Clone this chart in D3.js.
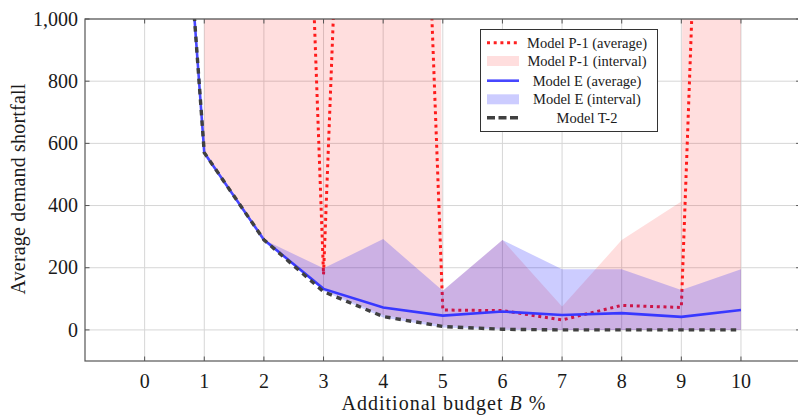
<!DOCTYPE html>
<html>
<head>
<meta charset="utf-8">
<script src="https://cdn.jsdelivr.net/npm/d3@7"></script>
<style>
body { margin: 0; background: #fff; }
svg text { font-family: "Liberation Serif", "DejaVu Serif", serif; fill: #1a1a1a; }
</style>
</head>
<body>
<svg id="chart" width="798" height="416"></svg>
<script>
// budget levels (x values)
const budget = [0, 1, 2, 3, 4, 5, 6, 7, 8, 9, 10];
const budgetP = [1, 2, 3, 4, 5, 6, 7, 8, 9, 10];

// Model P-1 (values above 1000 are clipped)
const p1Avg  = [6000, 5500, 178, 5200, 64, 62, 32, 79, 72, 5400];
const p1Low  = [570, 290, 130, 48, 15, 4, 0, 0, 0, 0];
const p1High = [30000, 30000, 30000, 30000, 126, 289, 75, 289, 413, 40000];

// Model E
const eAvg  = [3200, 570, 290, 132, 72, 46, 59, 48, 54, 42, 64];
const eLow  = [null, 570, 290, 125, 40, 8, 1, 0, 0, 0, 0];
const eHigh = [null, 570, 290, 198, 292, 126, 289, 195, 195, 128, 195];

// Model T-2
const t2 = [3200, 570, 290, 123, 43, 11, 2, 0, 0, 0, 0];

const xTicks = [0, 1, 2, 3, 4, 5, 6, 7, 8, 9, 10];
const yTicks = [0, 200, 400, 600, 800, 1000];
const legendLabels = ["Model P-1 (average)", "Model P-1 (interval)", "Model E (average)", "Model E (interval)", "Model T-2"];

const plotLeft = 85, plotTop = 19, plotBottom = 361, plotRight = 800.6;

const svg = d3.select("#chart");
const x = d3.scaleLinear().domain([-1, 11]).range([plotLeft, plotRight]);
const y = d3.scaleLinear().domain([-100, 1000]).range([plotBottom, plotTop]);

svg.append("defs").append("clipPath").attr("id", "clip")
    .append("rect")
    .attr("x", plotLeft).attr("y", plotTop)
    .attr("width", plotRight - plotLeft).attr("height", plotBottom - plotTop);

// grid
const grid = svg.append("g").attr("stroke", "#d6d6d6").attr("stroke-width", 1);
grid.selectAll(".gx").data(xTicks).enter().append("line")
    .attr("x1", d => x(d)).attr("x2", d => x(d))
    .attr("y1", plotTop).attr("y2", plotBottom);
grid.selectAll(".gy").data(yTicks).enter().append("line")
    .attr("x1", plotLeft).attr("x2", plotRight)
    .attr("y1", d => y(d)).attr("y2", d => y(d));

const plot = svg.append("g").attr("clip-path", "url(#clip)");

const line = d3.line().x(d => x(d[0])).y(d => y(d[1]));
const area = d3.area().x(d => x(d[0])).y0(d => y(d[1])).y1(d => y(d[2]));

const pAvgPts = budgetP.map((b, i) => [b, p1Avg[i]]);
const pBand = budgetP.map((b, i) => [b, p1Low[i], p1High[i]]);
const eAvgPts = budget.map((b, i) => [b, eAvg[i]]);
const eBand = budget.map((b, i) => [b, eLow[i], eHigh[i]]).filter(d => d[1] !== null);
const t2Pts = budget.map((b, i) => [b, t2[i]]);

const styles = {
    pAvg: { stroke: "#ff2020", width: 3, dash: "3 3.7" },
    eAvg: { stroke: "#4747ff", width: 2.6, dash: null },
    t2: { stroke: "#404040", width: 3.4, dash: "5.5 5" }
};

// drawing order follows the legend
plot.append("path").datum(pAvgPts).attr("d", line)
    .attr("fill", "none").attr("stroke", styles.pAvg.stroke)
    .attr("stroke-width", styles.pAvg.width).attr("stroke-dasharray", styles.pAvg.dash);

plot.append("path").datum(pBand).attr("d", area)
    .attr("fill", "#ff0000").attr("fill-opacity", 0.13);

plot.append("path").datum(eAvgPts).attr("d", line)
    .attr("fill", "none").attr("stroke", styles.eAvg.stroke)
    .attr("stroke-width", styles.eAvg.width);

plot.append("path").datum(eBand).attr("d", area)
    .attr("fill", "#0000ff").attr("fill-opacity", 0.2);

plot.append("path").datum(t2Pts).attr("d", line)
    .attr("fill", "none").attr("stroke", styles.t2.stroke)
    .attr("stroke-width", styles.t2.width).attr("stroke-dasharray", styles.t2.dash);

// frame and inward ticks
const axisCol = "#555";
svg.append("rect")
    .attr("x", plotLeft).attr("y", plotTop)
    .attr("width", plotRight - plotLeft).attr("height", plotBottom - plotTop)
    .attr("fill", "none").attr("stroke", axisCol).attr("stroke-width", 1.2);

const ticks = svg.append("g").attr("stroke", axisCol).attr("stroke-width", 1);
xTicks.forEach(t => {
    ticks.append("line").attr("x1", x(t)).attr("x2", x(t)).attr("y1", plotBottom).attr("y2", plotBottom - 4.5);
    ticks.append("line").attr("x1", x(t)).attr("x2", x(t)).attr("y1", plotTop).attr("y2", plotTop + 4.5);
});
yTicks.forEach(t => {
    ticks.append("line").attr("x1", plotLeft).attr("x2", plotLeft + 4.5).attr("y1", y(t)).attr("y2", y(t));
    ticks.append("line").attr("x1", plotRight).attr("x2", plotRight - 4.5).attr("y1", y(t)).attr("y2", y(t));
});

// tick labels
svg.append("g").selectAll("text").data(xTicks).enter().append("text")
    .attr("x", d => x(d)).attr("y", 388)
    .attr("text-anchor", "middle").attr("font-size", 20)
    .text(d => d);

svg.append("g").selectAll("text").data(yTicks).enter().append("text")
    .attr("x", 78).attr("y", d => y(d)).attr("dy", "0.33em")
    .attr("text-anchor", "end").attr("font-size", 20)
    .text(d => d3.format(",")(d));

// axis titles
const xt = svg.append("text")
    .attr("x", 444).attr("y", 410)
    .attr("text-anchor", "middle").attr("font-size", 20)
    .attr("letter-spacing", 1);
xt.append("tspan").text("Additional budget ");
xt.append("tspan").attr("font-style", "italic").text("B");
xt.append("tspan").text(" %");

svg.append("text")
    .attr("transform", "translate(25,189) rotate(-90)")
    .attr("text-anchor", "middle").attr("font-size", 20)
    .attr("letter-spacing", 0.2)
    .text("Average demand shortfall");

// legend
const lg = svg.append("g");
lg.append("rect")
    .attr("x", 480.5).attr("y", 29.5).attr("width", 177).attr("height", 102)
    .attr("fill", "#fff").attr("stroke", "#333").attr("stroke-width", 1);

const rowY = [42.7, 61, 80.7, 99.3, 117.7];
const sx0 = 487, sx1 = 519;

lg.append("line").attr("x1", sx0).attr("x2", sx1).attr("y1", rowY[0]).attr("y2", rowY[0])
    .attr("stroke", styles.pAvg.stroke).attr("stroke-width", styles.pAvg.width)
    .attr("stroke-dasharray", styles.pAvg.dash);
lg.append("rect").attr("x", sx0).attr("y", rowY[1] - 5).attr("width", sx1 - sx0).attr("height", 10)
    .attr("fill", "#ff0000").attr("fill-opacity", 0.13);
lg.append("line").attr("x1", sx0).attr("x2", sx1).attr("y1", rowY[2]).attr("y2", rowY[2])
    .attr("stroke", styles.eAvg.stroke).attr("stroke-width", styles.eAvg.width);
lg.append("rect").attr("x", sx0).attr("y", rowY[3] - 5).attr("width", sx1 - sx0).attr("height", 10)
    .attr("fill", "#0000ff").attr("fill-opacity", 0.2);
lg.append("line").attr("x1", sx0).attr("x2", sx1).attr("y1", rowY[4]).attr("y2", rowY[4])
    .attr("stroke", styles.t2.stroke).attr("stroke-width", styles.t2.width)
    .attr("stroke-dasharray", "8 3.5");

lg.selectAll(".lt").data(legendLabels).enter().append("text")
    .attr("x", 587).attr("y", (d, i) => rowY[i]).attr("dy", "0.35em")
    .attr("text-anchor", "middle").attr("font-size", 14.5)
    .text(d => d);
</script>
</body>
</html>
